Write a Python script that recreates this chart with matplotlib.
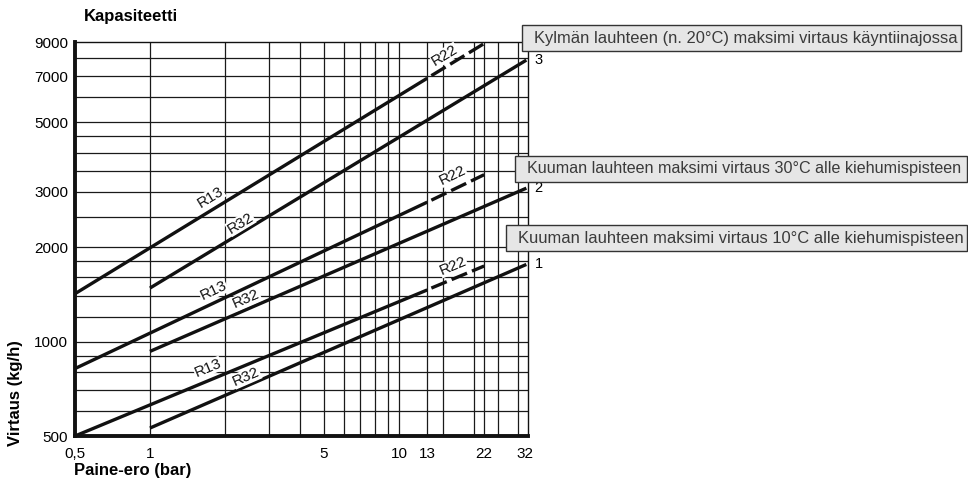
import math
import matplotlib
matplotlib.use("Agg")
import matplotlib.pyplot as plt
from matplotlib import font_manager
from matplotlib.patches import Rectangle
from matplotlib.ticker import FixedLocator, FixedFormatter, NullLocator

# fonts: narrow Helvetica look-alike if it is there
names = {f.name for f in font_manager.fontManager.ttflist}
narrow = 'Liberation Sans Narrow' if 'Liberation Sans Narrow' in names else 'Liberation Sans'
plain = 'Liberation Sans'

# axis ticks and grid
x_ticks = [0.5, 1, 5, 10, 13, 22, 32]
x_tick_labels = ['0,5', '1', '5', '10', '13', '22', '32']
y_ticks = [500, 1000, 2000, 3000, 5000, 7000, 9000]
y_tick_labels = ['500', '1000', '2000', '3000', '5000', '7000', '9000']
x_grid = [1, 2, 3, 4, 5, 6, 7, 8, 9, 10, 13, 15, 20, 22, 25, 30]
y_grid = [600, 700, 800, 900, 1000, 1200, 1400, 1600, 1800, 2000, 2500,
          3000, 3500, 4000, 4500, 5000, 6000, 7000, 8000]

# R13 (solid) for curves 3, 2, 1
r13_x = [0.5, 13]
r13_curve3 = [1420, 6900]
r13_curve2 = [820, 2780]
r13_curve1 = [500, 1460]

# R22 (dashed continuation)
r22_x = [13.5, 22]
r22_curve3 = [7030, 8900]
r22_curve2 = [2820, 3400]
r22_curve1 = [1480, 1740]

# R32 (solid)
r32_x = [1, 32.5]
r32_curve3 = [1480, 7880]
r32_curve2 = [930, 3080]
r32_curve1 = [530, 1760]

curve_names = ['3', '2', '1']
box_texts = ['Kylmän lauhteen (n. 20°C) maksimi virtaus käyntiinajossa',
             'Kuuman lauhteen maksimi virtaus 30°C alle kiehumispisteen',
             'Kuuman lauhteen maksimi virtaus 10°C alle kiehumispisteen']

W, H = 968, 495
fig = plt.figure(figsize=(W / 100, H / 100), dpi=100)
ax = fig.add_axes([75 / W, 1 - 436 / H, 453 / W, 394 / H])
ax.set_xscale('log')
ax.set_yscale('log')
ax.set_xlim(0.5, 33)
ax.set_ylim(500, 9000)

for gx in x_grid:
    ax.axvline(gx, color='#1a1a1a', lw=0.9, zorder=1)
for gy in y_grid:
    ax.axhline(gy, color='#1a1a1a', lw=0.9, zorder=1)

lw = 2.4
ink = '#111111'
for ys in [r13_curve3, r13_curve2, r13_curve1]:
    ax.plot(r13_x, ys, color=ink, lw=lw, solid_capstyle='butt', zorder=3)
for ys in [r22_curve3, r22_curve2, r22_curve1]:
    ax.plot(r22_x, ys, color=ink, lw=lw, linestyle=(0, (5, 1.6)),
            dash_capstyle='butt', zorder=3)
for ys, name in zip([r32_curve3, r32_curve2, r32_curve1], curve_names):
    ax.plot(r32_x, ys, color=ink, lw=lw, solid_capstyle='butt', zorder=3)
    ax.annotate(name, (r32_x[-1], ys[-1]), xytext=(6, 0), textcoords='offset points',
                fontsize=10.5, family=plain, ha='left', va='center',
                annotation_clip=False)

ax.xaxis.set_major_locator(FixedLocator(x_ticks))
ax.xaxis.set_major_formatter(FixedFormatter(x_tick_labels))
ax.xaxis.set_minor_locator(NullLocator())
ax.yaxis.set_major_locator(FixedLocator(y_ticks))
ax.yaxis.set_major_formatter(FixedFormatter(y_tick_labels))
ax.yaxis.set_minor_locator(NullLocator())
ax.tick_params(axis='both', length=0, labelsize=11)
ax.tick_params(axis='x', pad=8)
ax.tick_params(axis='y', pad=5)
for lab in ax.get_xticklabels() + ax.get_yticklabels():
    lab.set_family(plain)

ax.spines['left'].set_linewidth(2.8)
ax.spines['bottom'].set_linewidth(2.8)
ax.spines['top'].set_linewidth(1.0)
ax.spines['right'].set_linewidth(1.0)
for sp in ax.spines.values():
    sp.set_color(ink)
    sp.set_zorder(4)

fig.canvas.draw()
renderer = fig.canvas.get_renderer()


def angle_of(xs, ys):
    p0 = ax.transData.transform((xs[0], ys[0]))
    p1 = ax.transData.transform((xs[-1], ys[-1]))
    return math.degrees(math.atan2(p1[1] - p0[1], p1[0] - p0[0]))


# line labels: (text, placement x, placement y, line)
labels = [
    ('R13', 1.75, 2880, (r13_x, r13_curve3)),
    ('R32', 2.31, 2380, (r32_x, r32_curve3)),
    ('R13', 1.80, 1450, (r13_x, r13_curve2)),
    ('R32', 2.44, 1365, (r32_x, r32_curve2)),
    ('R13', 1.71, 823, (r13_x, r13_curve1)),
    ('R32', 2.44, 771, (r32_x, r32_curve1)),
    ('R22', 15.3, 8150, (r22_x, r22_curve3)),
    ('R22', 16.4, 3390, (r22_x, r22_curve2)),
    ('R22', 16.5, 1740, (r22_x, r22_curve1)),
]
for txt, lx, ly, (xs, ys) in labels:
    ax.text(lx, ly, txt, rotation=angle_of(xs, ys), rotation_mode='anchor',
            ha='center', va='center', fontsize=11, family=plain, color=ink,
            zorder=5, bbox=dict(facecolor='white', edgecolor='none', pad=0.3))

# titles
fig.text(131 / W, 1 - 17 / H, 'Kapasiteetti', family=narrow, weight='bold',
         fontsize=12, ha='center', va='center')
fig.text(133 / W, 1 - 471 / H, 'Paine-ero (bar)', family=narrow, weight='bold',
         fontsize=12, ha='center', va='center')
fig.text(16 / W, 1 - 393 / H, 'Virtaus (kg/h)', family=narrow, weight='bold',
         fontsize=12, ha='center', va='center', rotation=90)

# grey note boxes (pixel rectangles: left, top, right, bottom)
boxes = [(522, 25, 961, 51), (515, 156, 967, 182), (506, 225, 967, 251)]
for (l, t, r, b), txt in zip(boxes, box_texts):
    rect = Rectangle((l / W, 1 - b / H), (r - l) / W, (b - t) / H,
                     transform=fig.transFigure, facecolor='#e6e6e6',
                     edgecolor='#333333', lw=1.0, zorder=10)
    fig.add_artist(rect)
    t_obj = fig.text((l + 12) / W, 1 - ((t + b) / 2) / H, txt, family=narrow,
                     fontsize=13, color='#3a3a3a', ha='left', va='center',
                     zorder=11)
    width = t_obj.get_window_extent(renderer).width
    target = (r - l) - 20
    t_obj.set_fontsize(13 * target / width)

fig.savefig('out.png', dpi=100)
